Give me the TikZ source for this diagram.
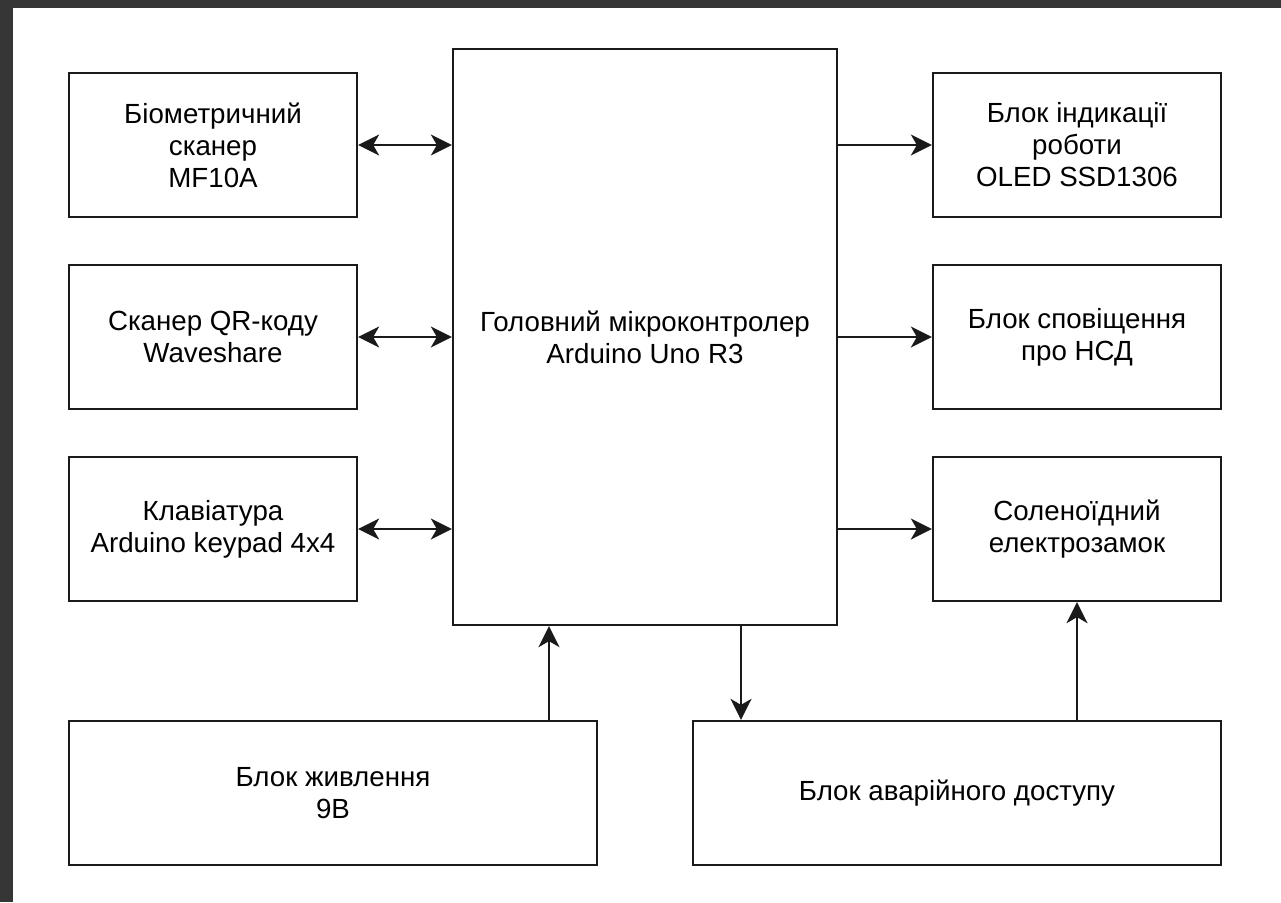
\documentclass[tikz,border=0pt]{standalone}
\usepackage{fontspec}
\setmainfont{Liberation Sans}
\usetikzlibrary{arrows.meta}
\definecolor{frame}{HTML}{363636}
\definecolor{ln}{HTML}{1A1A1A}
\tikzset{
  blk/.style={draw=ln, line width=2.3pt, fill=white, inner sep=0pt, align=center,
    font=\fontsize{27.7}{32}\selectfont, text=black},
  arr/.style={draw=ln, line width=2.3pt, -{Stealth[length=21pt, width=21pt, inset=6pt]}},
  barr/.style={draw=ln, line width=2.3pt, {Stealth[length=21pt, width=21pt, inset=6pt]}-{Stealth[length=21pt, width=21pt, inset=6pt]}}
}
\begin{document}
\begin{tikzpicture}[x=1pt, y=-1pt]
\useasboundingbox (0,0) rectangle (1281,902);
\fill[white] (0,0) rectangle (1281,902);
\fill[frame] (0,0) rectangle (13,902);
\fill[frame] (0,0) rectangle (1281,8);

\node[blk, minimum width=288pt, minimum height=144pt] (bio) at (213,145) {Біометричний\\сканер\\MF10A};
\node[blk, minimum width=288pt, minimum height=144pt] (qr) at (213,337) {Сканер QR-коду\\Waveshare};
\node[blk, minimum width=288pt, minimum height=144pt] (kbd) at (213,529) {Клавіатура\\Arduino keypad 4x4};
\node[blk, minimum width=384pt, minimum height=576pt] (mcu) at (645,337) {Головний мікроконтролер\\Arduino Uno R3};
\node[blk, minimum width=288pt, minimum height=144pt] (oled) at (1077,145) {Блок індикації\\роботи\\OLED SSD1306};
\node[blk, minimum width=288pt, minimum height=144pt] (nsd) at (1077,337) {Блок сповіщення\\про НСД};
\node[blk, minimum width=288pt, minimum height=144pt] (lock) at (1077,529) {Соленоїдний\\електрозамок};
\node[blk, minimum width=528pt, minimum height=144pt] (pow) at (333,793) {Блок живлення\\9В};
\node[blk, minimum width=528pt, minimum height=144pt] (emg) at (957,793) {Блок аварійного доступу};

\coordinate (cp) at (549,0);
\coordinate (ce) at (741,0);

\draw[barr] (bio.east) -- (mcu.west |- bio.east);
\draw[barr] (qr.east) -- (mcu.west |- qr.east);
\draw[barr] (kbd.east) -- (mcu.west |- kbd.east);
\draw[arr] (mcu.east |- oled.west) -- (oled.west);
\draw[arr] (mcu.east |- nsd.west) -- (nsd.west);
\draw[arr] (mcu.east |- lock.west) -- (lock.west);
\draw[arr] (pow.north -| cp) -- (mcu.south -| cp);
\draw[arr] (mcu.south -| ce) -- (emg.north -| ce);
\draw[arr] (emg.north -| lock.south) -- (lock.south);
\end{tikzpicture}
\end{document}
